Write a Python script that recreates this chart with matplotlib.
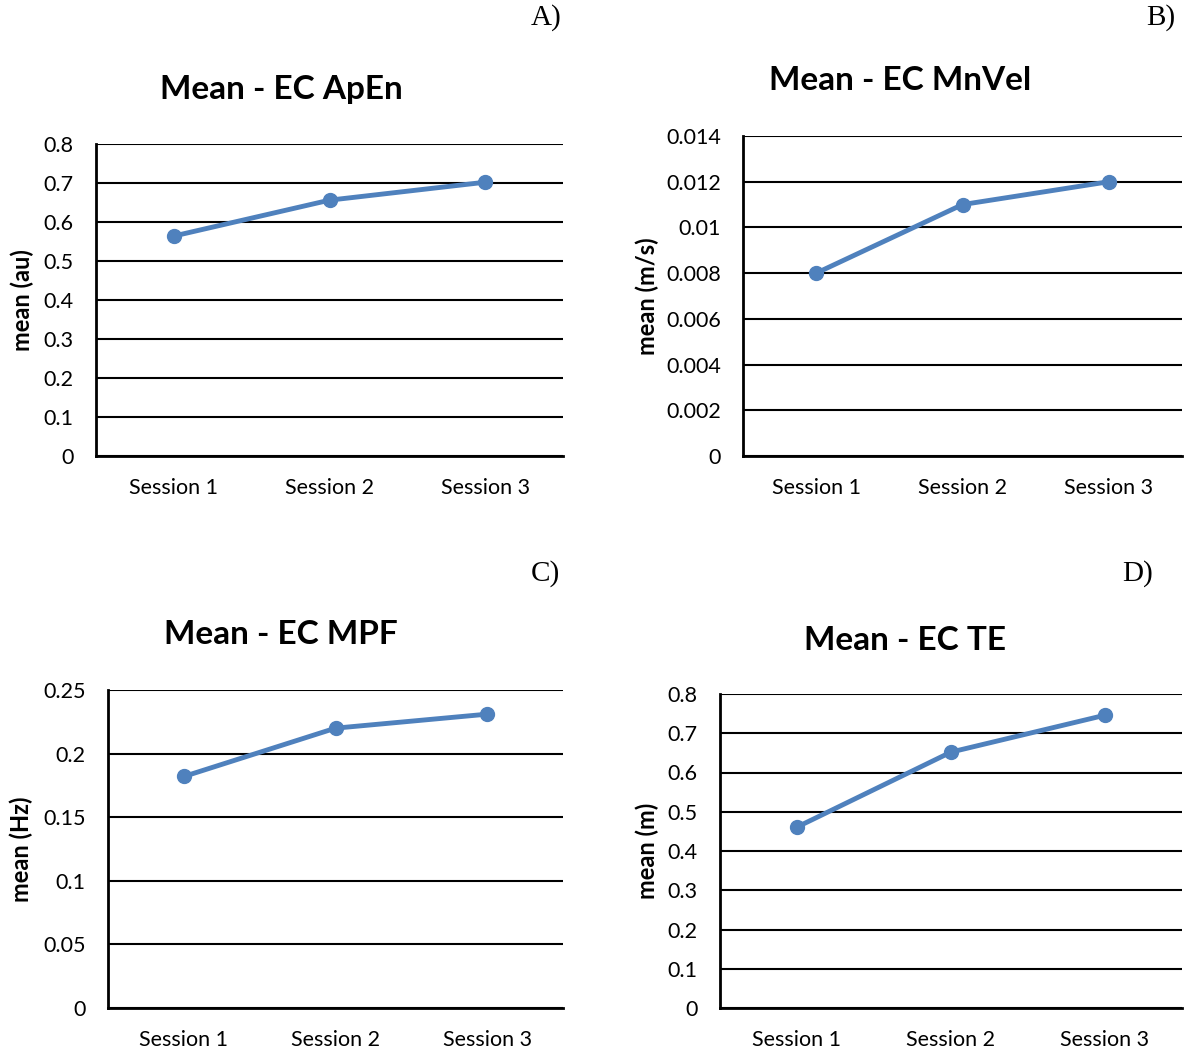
import matplotlib
matplotlib.use("Agg")
import matplotlib.pyplot as plt

sessions = ["Session 1", "Session 2", "Session 3"]

apen = [0.564, 0.656, 0.702]
mnvel = [0.0080, 0.0110, 0.0120]
mpf = [0.182, 0.220, 0.231]
te = [0.461, 0.652, 0.746]

apen_ticks = [0, 0.1, 0.2, 0.3, 0.4, 0.5, 0.6, 0.7, 0.8]
apen_labels = ["0", "0.1", "0.2", "0.3", "0.4", "0.5", "0.6", "0.7", "0.8"]
mnvel_ticks = [0, 0.002, 0.004, 0.006, 0.008, 0.010, 0.012, 0.014]
mnvel_labels = ["0", "0.002", "0.004", "0.006", "0.008", "0.01", "0.012", "0.014"]
mpf_ticks = [0, 0.05, 0.10, 0.15, 0.20, 0.25]
mpf_labels = ["0", "0.05", "0.1", "0.15", "0.2", "0.25"]
te_ticks = apen_ticks
te_labels = apen_labels

W, H = 1188, 1057
fig = plt.figure(figsize=(W / 100, H / 100), dpi=100)

SANS = ["Lato", "DejaVu Sans"]
SERIF = ["Liberation Serif", "DejaVu Serif"]
COLOR = "#4F81BD"

def px_axes(l, t, r, b):
    return fig.add_axes([l / W, 1 - b / H, (r - l) / W, (b - t) / H])

panels = [
    dict(box=(96, 144, 563, 456), y=apen, ticks=apen_ticks, labels=apen_labels,
         title="Mean - EC ApEn", ylabel="mean (au)", tpos=(281, 89), letter="A)", lpos=(546, 18), ylx=34),
    dict(box=(743, 136, 1182, 456), y=mnvel, ticks=mnvel_ticks, labels=mnvel_labels,
         title="Mean - EC MnVel", ylabel="mean (m/s)", tpos=(900, 80), letter="B)", lpos=(1161, 18), ylx=659),
    dict(box=(108, 690, 563, 1008), y=mpf, ticks=mpf_ticks, labels=mpf_labels,
         title="Mean - EC MPF", ylabel="mean (Hz)", tpos=(281, 635), letter="C)", lpos=(545, 574), ylx=33),
    dict(box=(720, 694, 1182, 1008), y=te, ticks=te_ticks, labels=te_labels,
         title="Mean - EC TE", ylabel="mean (m)", tpos=(905, 640), letter="D)", lpos=(1138, 574), ylx=659),
]

for p in panels:
    l, t, r, b = p["box"]
    ax = px_axes(l, t, r, b)
    x = list(range(len(sessions)))
    ax.plot(x, p["y"], color=COLOR, lw=3.5, marker="o", ms=10, zorder=3, clip_on=False)
    ax.set_xlim(-0.5, len(sessions) - 0.5)
    ax.set_ylim(p["ticks"][0], p["ticks"][-1])
    ax.set_yticks(p["ticks"])
    ax.set_yticklabels(p["labels"], fontsize=15.5, family=SANS)
    ax.set_xticks(x)
    ax.set_xticklabels(sessions, fontsize=15.5, family=SANS)
    ax.tick_params(axis="y", length=0, pad=16)
    ax.tick_params(axis="x", length=0, pad=16)
    ax.grid(axis="y", color="black", lw=1.5)
    ax.set_axisbelow(True)
    for s in ["top", "right"]:
        ax.spines[s].set_visible(False)
    for s in ["left", "bottom"]:
        ax.spines[s].set_linewidth(2)
        ax.spines[s].set_color("black")
    ax.set_ylabel(p["ylabel"], fontsize=17, fontweight="bold", family=SANS)
    ax.yaxis.set_label_coords((p["ylx"] - l) / (r - l), 0.5)
    fig.text(p["tpos"][0] / W, 1 - p["tpos"][1] / H, p["title"], ha="center", va="center",
             fontsize=24, fontweight="bold", family=SANS)
    fig.text(p["lpos"][0] / W, 1 - p["lpos"][1] / H, p["letter"], ha="center", va="center",
             fontsize=21, family=SERIF)

fig.savefig("out.png", dpi=100)
